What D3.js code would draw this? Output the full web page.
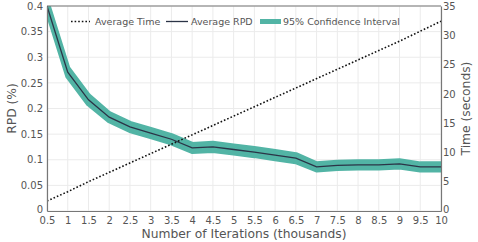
<!DOCTYPE html>
<html>
<head>
<meta charset="utf-8">
<script src="https://cdn.jsdelivr.net/npm/d3@7"></script>
<style>
body{margin:0;background:#fff;}
text{font-family:"DejaVu Sans",Verdana,sans-serif;}
</style>
</head>
<body>
<svg class="chart" width="478" height="242"></svg>
<script>
// iterations in thousands
var iterations = [0.5,1,1.5,2,2.5,3,3.5,4,4.5,5,5.5,6,6.5,7,7.5,8,8.5,9,9.5,10];
var avgRpd = [0.400,0.271,0.217,0.183,0.164,0.152,0.140,0.123,0.125,0.120,0.115,0.109,0.103,0.086,0.089,0.090,0.090,0.092,0.086,0.086];
var ciLow  = [0.392,0.263,0.209,0.176,0.157,0.145,0.133,0.116,0.118,0.113,0.108,0.102,0.096,0.080,0.083,0.084,0.084,0.086,0.080,0.080];
var ciHigh = [0.408,0.279,0.225,0.190,0.171,0.159,0.147,0.130,0.132,0.127,0.122,0.116,0.110,0.092,0.095,0.096,0.096,0.098,0.092,0.092];
var avgTime = [1.7,3.3,5.0,6.6,8.2,9.8,11.4,13.0,14.6,16.2,17.8,19.4,21.0,22.6,24.2,25.8,27.4,29.0,30.7,32.4];
var xTicks = [0.5,1,1.5,2,2.5,3,3.5,4,4.5,5,5.5,6,6.5,7,7.5,8,8.5,9,9.5,10];
var yTicks = [0,0.05,0.1,0.15,0.2,0.25,0.3,0.35,0.4];
var y2Ticks = [0,5,10,15,20,25,30,35];

var margin = {top:6, right:37, bottom:31, left:47};
var width = 478 - margin.left - margin.right,
	height = 242 - margin.top - margin.bottom;
var teal = "#52b4a5", navy = "#2b3447", axisCol = "#777", txt = "#555";

var svg = d3.select('.chart');
var chart = svg.append('g').attr('transform','translate(' + margin.left + ',' + margin.top + ')');

var x = d3.scaleLinear().domain([0.5,10]).range([0,width]);
var y = d3.scaleLinear().domain([0,0.4]).range([height,0]);
var y2 = d3.scaleLinear().domain([0,35]).range([height,0]);

var data = iterations.map(function(d,i){
	return {it:d, rpd:avgRpd[i], lo:ciLow[i], hi:ciHigh[i], t:avgTime[i]};
});

// grid
chart.append('g').selectAll('line').data(xTicks).enter().append('line')
	.attr('x1',function(d){ return x(d) }).attr('x2',function(d){ return x(d) })
	.attr('y1',0).attr('y2',height).attr('stroke','#ebebeb');
chart.append('g').selectAll('line').data(yTicks).enter().append('line')
	.attr('y1',function(d){ return y(d) }).attr('y2',function(d){ return y(d) })
	.attr('x1',0).attr('x2',width).attr('stroke','#ebebeb');

chart.append('defs').append('clipPath').attr('id','clip')
	.append('rect').attr('width',width).attr('height',height);
var plot = chart.append('g').attr('clip-path','url(#clip)');

// confidence band
var area = d3.area()
	.x(function(d){ return x(d.it) })
	.y0(function(d){ return y(d.lo) })
	.y1(function(d){ return y(d.hi) });
plot.append('path').datum(data)
	.attr('d',area).attr('fill',teal).attr('stroke',teal)
	.attr('stroke-width',5).attr('stroke-linejoin','round');

var rpdLine = d3.line().x(function(d){ return x(d.it) }).y(function(d){ return y(d.rpd) });
plot.append('path').datum(data)
	.attr('d',rpdLine).attr('fill','none').attr('stroke',navy).attr('stroke-width',1.3);

var timeLine = d3.line().x(function(d){ return x(d.it) }).y(function(d){ return y2(d.t) });
plot.append('path').datum(data)
	.attr('d',timeLine).attr('fill','none').attr('stroke','#111')
	.attr('stroke-width',1.6).attr('stroke-dasharray','1.6,2');

// axes
var xAxis = d3.axisBottom(x).tickValues(xTicks).tickSize(0).tickPadding(6)
	.tickFormat(function(d){ return d3.format('~g')(d) });
var yAxis = d3.axisLeft(y).tickValues(yTicks).tickSize(0).tickPadding(4)
	.tickFormat(function(d){ return d3.format('~g')(d) });
var y2Axis = d3.axisRight(y2).tickValues(y2Ticks).tickSize(0).tickPadding(2);

chart.append('g').attr('class','x axis').attr('transform','translate(0,' + height + ')').call(xAxis);
chart.append('g').attr('class','y axis').call(yAxis);
chart.append('g').attr('class','y2 axis').attr('transform','translate(' + width + ',0)').call(y2Axis);
chart.selectAll('.axis .domain').attr('stroke',axisCol).attr('stroke-width',1.2);
chart.selectAll('.axis text').attr('fill',txt).style('font-size','10px');
// lift the zero labels of both y axes a little so they clear the x labels
chart.selectAll('.y.axis .tick text, .y2.axis .tick text')
	.filter(function(d){ return d === 0 }).attr('dy','0.1em');
chart.append('line').attr('x1',0).attr('x2',width).attr('y1',0).attr('y2',0)
	.attr('stroke',axisCol).attr('stroke-width',1.2);

// titles
svg.append('text').attr('x',margin.left + width/2).attr('y',238)
	.attr('text-anchor','middle').attr('fill',txt).style('font-size','12.3px')
	.text('Number of Iterations (thousands)');
svg.append('text').attr('transform','translate(16,' + (margin.top + height/2) + ') rotate(-90)')
	.attr('text-anchor','middle').attr('fill',txt).style('font-size','12.3px').text('RPD (%)');
svg.append('text').attr('transform','translate(470,' + (margin.top + height/2) + ') rotate(-90)')
	.attr('text-anchor','middle').attr('fill',txt).style('font-size','12.3px').text('Time (seconds)');

// legend
var legend = chart.append('g').attr('transform','translate(0,15.5)');
var lg = [
	{label:'Average Time', x:24, len:19, tx:24, type:'dot'},
	{label:'Average RPD', x:119, len:22, tx:25, type:'line'},
	{label:'95% Confidence Interval', x:213, len:21, tx:23, type:'band'}
];
lg.forEach(function(l){
	var g = legend.append('g').attr('transform','translate(' + l.x + ',0)');
	if(l.type === 'dot'){
		g.append('line').attr('x1',0).attr('x2',l.len).attr('stroke','#111')
			.attr('stroke-width',1.6).attr('stroke-dasharray','1.6,2');
	}else if(l.type === 'line'){
		g.append('line').attr('x1',0).attr('x2',l.len).attr('stroke',navy).attr('stroke-width',1.3);
	}else{
		g.append('rect').attr('x',0).attr('y',-2.5).attr('width',l.len).attr('height',5).attr('fill',teal);
	}
	g.append('text').attr('x',l.tx).attr('y',0).attr('dy','0.35em')
		.attr('fill',txt).style('font-size','9.5px').text(l.label);
});
</script>
</body>
</html>
